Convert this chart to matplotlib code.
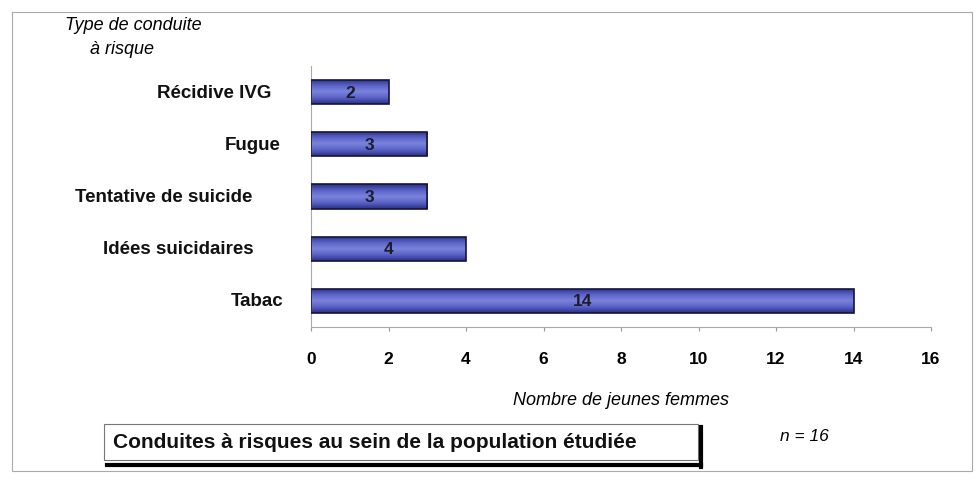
import matplotlib
matplotlib.use('Agg')
import numpy as np
import matplotlib.pyplot as plt
from matplotlib.patches import Rectangle
from matplotlib.colors import LinearSegmentedColormap
from matplotlib.transforms import blended_transform_factory

plt.rcParams['font.family'] = ['Liberation Sans', 'DejaVu Sans']

# data
categories = ['Tabac', 'Idées suicidaires', 'Tentative de suicide', 'Fugue', 'Récidive IVG']
values = [14, 4, 3, 3, 2]
xticks = [0, 2, 4, 6, 8, 10, 12, 14, 16]

# layout: right edge (px) of each category label, as placed in the original
label_right = [283, 254, 252, 281, 271]

W, H = 977, 481
fig = plt.figure(figsize=(W / 100, H / 100), dpi=100)
ax = fig.add_axes([311 / W, 1 - 328 / H, 620 / W, 261 / H])

ypos = list(range(len(categories)))
bar_h = 0.46
bars = ax.barh(ypos, values, height=bar_h, color='none',
               edgecolor='#15153a', linewidth=1.2, zorder=3)

# blue shading inside the bars (dark edges, lighter middle)
shade = LinearSegmentedColormap.from_list(
    'shade', ['#2a2f86', '#5a63c6', '#7a83dc', '#5a63c6', '#2a2f86'])
grad = np.linspace(0, 1, 64).reshape(-1, 1)
for b in bars:
    x0, y0 = b.get_x(), b.get_y()
    im = ax.imshow(grad, cmap=shade, aspect='auto', zorder=2,
                   extent=[x0, x0 + b.get_width(), y0, y0 + b.get_height()])
    im.set_clip_path(b)

for y, v in zip(ypos, values):
    ax.text(v / 2, y, str(v), ha='center', va='center',
            fontsize=12.5, fontweight='bold', color='#1c1c30', zorder=4)

ax.set_xlim(0, 16)
ax.set_ylim(-0.5, 4.5)
ax.set_xticks(xticks)
ax.set_xticklabels([str(t) for t in xticks], fontsize=12.5, fontweight='bold')
ax.set_yticks([])
ax.tick_params(axis='x', length=3, color='#999999', pad=14)
ax.spines['top'].set_visible(False)
ax.spines['right'].set_visible(False)
ax.spines['left'].set_color('#aaaaaa')
ax.spines['left'].set_linewidth(0.8)
ax.spines['bottom'].set_color('#aaaaaa')
ax.spines['bottom'].set_linewidth(0.8)

# category labels
trans = blended_transform_factory(fig.transFigure, ax.transData)
for y, name, xr in zip(ypos, categories, label_right):
    ax.text(xr / W, y, name, transform=trans, ha='right', va='center',
            fontsize=13.5, fontweight='bold', color='#111111')

ax.set_xlabel('Nombre de jeunes femmes', fontsize=13, fontstyle='italic',
              labelpad=18)

# y axis title
fig.text(65 / W, 1 - 25 / H, 'Type de conduite', fontsize=13,
         fontstyle='italic', ha='left', va='center')
fig.text(90 / W, 1 - 50 / H, 'à risque', fontsize=13,
         fontstyle='italic', ha='left', va='center')

# outer frame
fig.add_artist(Rectangle((12 / W, 1 - 472 / H), 960 / W, 459 / H,
                         transform=fig.transFigure, fill=False,
                         edgecolor='#aaaaaa', linewidth=0.8))

# title box with shadow
bx0, bx1 = 104 / W, 698 / W
by0, by1 = 1 - 461 / H, 1 - 425 / H
fig.add_artist(Rectangle((bx0, by0), bx1 - bx0, by1 - by0,
                         transform=fig.transFigure, fill=False,
                         edgecolor='#777777', linewidth=0.8))
fig.add_artist(plt.Line2D([bx1 + 3 / W, bx1 + 3 / W],
                          [by0 - 7 / H, by1 - 3 / H], transform=fig.transFigure,
                          color='black', linewidth=3))
fig.add_artist(plt.Line2D([bx0 + 3 / W, bx1 + 3 / W],
                          [by0 - 5 / H, by0 - 5 / H],
                          transform=fig.transFigure,
                          color='black', linewidth=3))
fig.text(113 / W, 1 - 443 / H, 'Conduites à risques au sein de la population étudiée',
         fontsize=15, fontweight='bold', color='#111111', ha='left', va='center')
fig.text(780 / W, 1 - 437 / H, 'n = 16', fontsize=12.5, fontstyle='italic',
         ha='left', va='center')

fig.savefig('out.png', dpi=100)
